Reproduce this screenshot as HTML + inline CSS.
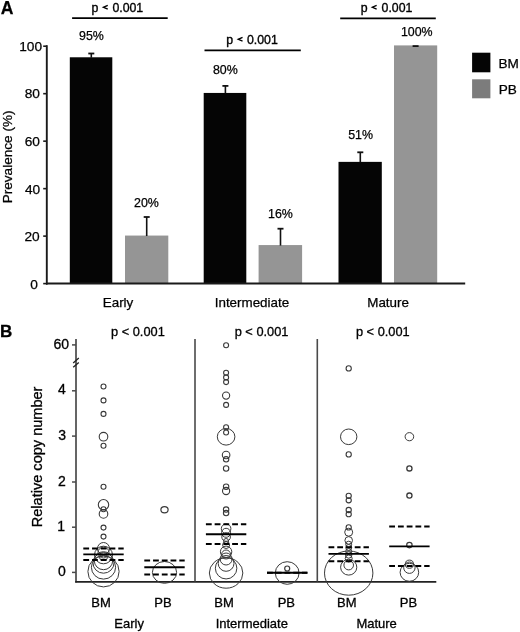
<!DOCTYPE html>
<html><head><meta charset="utf-8"><style>
html,body{margin:0;padding:0;background:#fff;}
svg{display:block;font-family:"Liberation Sans", sans-serif;filter:grayscale(1);}
text{stroke:#000;stroke-width:0.25px;paint-order:stroke;}
text.pv{stroke-width:0.35px;}
.b text{stroke-width:0.3px;}
</style></head><body>
<svg width="520" height="632" viewBox="0 0 520 632">
<rect x="0" y="0" width="520" height="632" fill="#fff"/>
<text x="0.86" y="13.61" font-size="17.6" font-weight="bold" fill="#000" >A</text>
<rect x="69.8" y="57.28500000000005" width="42.5" height="226.31499999999997" fill="#050505"/>
<line x1="91.3" y1="53.5" x2="91.3" y2="57.78500000000005" stroke="#111" stroke-width="1.6" />
<line x1="88.3" y1="53.5" x2="94.3" y2="53.5" stroke="#111" stroke-width="1.8" />
<rect x="125.0" y="235.56000000000003" width="43.30000000000001" height="48.03999999999999" fill="#959595"/>
<line x1="146.7" y1="217.0" x2="146.7" y2="236.06000000000003" stroke="#111" stroke-width="1.6" />
<line x1="143.7" y1="217.0" x2="149.7" y2="217.0" stroke="#111" stroke-width="1.8" />
<rect x="203.7" y="92.94000000000005" width="42.60000000000002" height="190.65999999999997" fill="#050505"/>
<line x1="225.4" y1="85.9" x2="225.4" y2="93.44000000000005" stroke="#111" stroke-width="1.6" />
<line x1="222.4" y1="85.9" x2="228.4" y2="85.9" stroke="#111" stroke-width="1.8" />
<rect x="258.6" y="245.06800000000004" width="43.5" height="38.53199999999998" fill="#959595"/>
<line x1="280.5" y1="228.7" x2="280.5" y2="245.56800000000004" stroke="#111" stroke-width="1.6" />
<line x1="277.5" y1="228.7" x2="283.5" y2="228.7" stroke="#111" stroke-width="1.8" />
<rect x="338.5" y="161.87300000000005" width="43.30000000000001" height="121.72699999999998" fill="#050505"/>
<line x1="360.3" y1="152.3" x2="360.3" y2="162.37300000000005" stroke="#111" stroke-width="1.6" />
<line x1="357.3" y1="152.3" x2="363.3" y2="152.3" stroke="#111" stroke-width="1.8" />
<rect x="394.0" y="45.400000000000034" width="43.19999999999999" height="238.2" fill="#959595"/>
<line x1="412.6" y1="46.1" x2="418.6" y2="46.1" stroke="#111" stroke-width="1.8" />
<line x1="46.8" y1="45.2" x2="46.8" y2="284.6" stroke="#1a1a1a" stroke-width="1.9" />
<line x1="46.0" y1="283.6" x2="465.2" y2="283.6" stroke="#1a1a1a" stroke-width="2.0" />
<line x1="43.2" y1="283.6" x2="47" y2="283.6" stroke="#1a1a1a" stroke-width="1.6" />
<line x1="43.2" y1="236.12" x2="47" y2="236.12" stroke="#1a1a1a" stroke-width="1.6" />
<line x1="43.2" y1="188.64000000000001" x2="47" y2="188.64000000000001" stroke="#1a1a1a" stroke-width="1.6" />
<line x1="43.2" y1="141.16000000000003" x2="47" y2="141.16000000000003" stroke="#1a1a1a" stroke-width="1.6" />
<line x1="43.2" y1="93.68" x2="47" y2="93.68" stroke="#1a1a1a" stroke-width="1.6" />
<line x1="43.2" y1="46.20000000000002" x2="47" y2="46.20000000000002" stroke="#1a1a1a" stroke-width="1.6" />
<text x="19.24" y="51.33" font-size="13.7" font-weight="normal" fill="#000" >100</text>
<text x="24.70" y="98.43" font-size="13.7" font-weight="normal" fill="#000" >80</text>
<text x="24.68" y="146.03" font-size="13.7" font-weight="normal" fill="#000" >60</text>
<text x="24.88" y="193.73" font-size="13.7" font-weight="normal" fill="#000" >40</text>
<text x="24.43" y="241.23" font-size="13.7" font-weight="normal" fill="#000" >20</text>
<text x="30.26" y="288.73" font-size="13.7" font-weight="normal" fill="#000" >0</text>
<text transform="translate(12.00,203.33) rotate(-90)" x="0" y="0" font-size="13.6" font-weight="normal">Prevalence (%)</text>
<text x="79.03" y="40.08" font-size="12.4" font-weight="normal" fill="#000" >95%</text>
<text x="134.08" y="207.08" font-size="12.4" font-weight="normal" fill="#000" >20%</text>
<text x="212.91" y="74.40" font-size="12.4" font-weight="normal" fill="#000" >80%</text>
<text x="267.99" y="218.08" font-size="12.4" font-weight="normal" fill="#000" >16%</text>
<text x="348.19" y="138.72" font-size="12.4" font-weight="normal" fill="#000" >51%</text>
<text x="400.88" y="36.18" font-size="12.4" font-weight="normal" fill="#000" >100%</text>
<line x1="72.1" y1="18.2" x2="167.7" y2="18.2" stroke="#000" stroke-width="1.8" />
<text class="pv" x="91.55" y="12.01" font-size="12.3">p</text>
<text class="pv" x="112.41" y="12.01" font-size="12.3">0.001</text>
<path d="M107.75,5.45 L103.45,7.30 L107.75,9.15" fill="none" stroke="#000" stroke-width="1.35" stroke-linejoin="miter"/>
<line x1="204.5" y1="50.4" x2="300.8" y2="50.4" stroke="#000" stroke-width="1.8" />
<text class="pv" x="226.17" y="44.11" font-size="12.3">p</text>
<text class="pv" x="247.03" y="44.11" font-size="12.3">0.001</text>
<path d="M242.55,37.45 L238.25,39.30 L242.55,41.15" fill="none" stroke="#000" stroke-width="1.35" stroke-linejoin="miter"/>
<line x1="340.2" y1="18.4" x2="435.8" y2="18.4" stroke="#000" stroke-width="1.8" />
<text class="pv" x="360.70" y="12.01" font-size="12.3">p</text>
<text class="pv" x="381.56" y="12.01" font-size="12.3">0.001</text>
<path d="M376.65,5.40 L372.35,7.25 L376.65,9.10" fill="none" stroke="#000" stroke-width="1.35" stroke-linejoin="miter"/>
<text x="102.75" y="307.48" font-size="13.4" font-weight="normal" fill="#000" >Early</text>
<text x="214.73" y="306.87" font-size="13.4" font-weight="normal" fill="#000" >Intermediate</text>
<text x="367.27" y="306.61" font-size="13.4" font-weight="normal" fill="#000" >Mature</text>
<rect x="472.1" y="52.7" width="18.3" height="19.6" fill="#050505"/>
<rect x="472.1" y="79.3" width="18.3" height="19.0" fill="#7c7c7c"/>
<text x="498.45" y="67.74" font-size="13.6" font-weight="normal" fill="#000" >BM</text>
<text x="498.75" y="94.29" font-size="13.6" font-weight="normal" fill="#000" >PB</text>
<g class="b">
<text x="0.12" y="336.76" font-size="17.0" font-weight="bold" fill="#000" >B</text>
<line x1="76.0" y1="339.1" x2="76.0" y2="582.6" stroke="#4a4a4a" stroke-width="1.7" />
<line x1="75.2" y1="581.8" x2="436.3" y2="581.8" stroke="#222" stroke-width="1.7" />
<line x1="195.0" y1="339.0" x2="195.0" y2="581.5" stroke="#4a4a4a" stroke-width="1.6" />
<line x1="317.3" y1="339.0" x2="317.3" y2="581.5" stroke="#4a4a4a" stroke-width="1.6" />
<line x1="72.0" y1="344.9" x2="76.0" y2="344.9" stroke="#4a4a4a" stroke-width="1.5" />
<line x1="72.0" y1="390.8" x2="76.0" y2="390.8" stroke="#4a4a4a" stroke-width="1.5" />
<line x1="72.0" y1="436.1" x2="76.0" y2="436.1" stroke="#4a4a4a" stroke-width="1.5" />
<line x1="72.0" y1="482.0" x2="76.0" y2="482.0" stroke="#4a4a4a" stroke-width="1.5" />
<line x1="72.0" y1="527.2" x2="76.0" y2="527.2" stroke="#4a4a4a" stroke-width="1.5" />
<line x1="72.0" y1="572.4" x2="76.0" y2="572.4" stroke="#4a4a4a" stroke-width="1.5" />
<line x1="73.2" y1="362.9" x2="78.8" y2="358.0" stroke="#222" stroke-width="1.3" />
<line x1="73.2" y1="367.3" x2="78.8" y2="362.4" stroke="#222" stroke-width="1.3" />
<text x="53.56" y="349.23" font-size="14.0" font-weight="normal" fill="#000" >60</text>
<text x="58.00" y="394.30" font-size="14.0" font-weight="normal" fill="#000" >4</text>
<text x="58.35" y="440.03" font-size="14.0" font-weight="normal" fill="#000" >3</text>
<text x="57.93" y="486.20" font-size="14.0" font-weight="normal" fill="#000" >2</text>
<text x="57.32" y="531.28" font-size="14.0" font-weight="normal" fill="#000" >1</text>
<text x="57.98" y="576.13" font-size="14.0" font-weight="normal" fill="#000" >0</text>
<text transform="translate(41.90,527.24) rotate(-90)" x="0" y="0" font-size="14.55" font-weight="normal">Relative copy number</text>
<text x="111.04" y="336.46" font-size="12.8" font-weight="normal" fill="#000" >p &lt; 0.001</text>
<text x="234.69" y="336.16" font-size="12.8" font-weight="normal" fill="#000" >p &lt; 0.001</text>
<text x="355.94" y="336.46" font-size="12.8" font-weight="normal" fill="#000" >p &lt; 0.001</text>
<text x="91.35" y="606.88" font-size="13.0" font-weight="normal" fill="#000" >BM</text>
<text x="154.26" y="606.88" font-size="13.0" font-weight="normal" fill="#000" >PB</text>
<text x="214.25" y="606.88" font-size="13.0" font-weight="normal" fill="#000" >BM</text>
<text x="277.71" y="606.88" font-size="13.0" font-weight="normal" fill="#000" >PB</text>
<text x="337.00" y="606.88" font-size="13.0" font-weight="normal" fill="#000" >BM</text>
<text x="399.76" y="606.88" font-size="13.0" font-weight="normal" fill="#000" >PB</text>
<text x="114.37" y="628.49" font-size="13.0" font-weight="normal" fill="#000" >Early</text>
<text x="215.65" y="627.98" font-size="13.0" font-weight="normal" fill="#000" >Intermediate</text>
<text x="356.38" y="627.72" font-size="13.0" font-weight="normal" fill="#000" >Mature</text>
<circle cx="103.5" cy="386.5" r="2.5" fill="none" stroke="#3a3a3a" stroke-width="1.1"/>
<circle cx="103.5" cy="400.4" r="2.5" fill="none" stroke="#3a3a3a" stroke-width="1.1"/>
<circle cx="103.5" cy="413.9" r="2.5" fill="none" stroke="#3a3a3a" stroke-width="1.1"/>
<circle cx="103.5" cy="436.7" r="4.3" fill="none" stroke="#3a3a3a" stroke-width="1.1"/>
<circle cx="103.5" cy="445.7" r="2.5" fill="none" stroke="#3a3a3a" stroke-width="1.1"/>
<circle cx="103.5" cy="486.7" r="2.5" fill="none" stroke="#3a3a3a" stroke-width="1.1"/>
<circle cx="103.5" cy="504.7" r="5.2" fill="none" stroke="#3a3a3a" stroke-width="1.1"/>
<circle cx="103.5" cy="509.2" r="2.5" fill="none" stroke="#3a3a3a" stroke-width="1.1"/>
<circle cx="103.5" cy="513.9" r="4.3" fill="none" stroke="#3a3a3a" stroke-width="1.1"/>
<circle cx="103.5" cy="527.6" r="2.5" fill="none" stroke="#3a3a3a" stroke-width="1.1"/>
<circle cx="103.5" cy="536.6" r="2.5" fill="none" stroke="#3a3a3a" stroke-width="1.1"/>
<ellipse cx="103.5" cy="548.5" rx="6.0" ry="6.0" fill="none" stroke="#3a3a3a" stroke-width="1.0"/>
<ellipse cx="103.5" cy="552.5" rx="5.5" ry="5.5" fill="none" stroke="#3a3a3a" stroke-width="1.0"/>
<ellipse cx="103.5" cy="555.0" rx="9.0" ry="8.8" fill="none" stroke="#3a3a3a" stroke-width="1.0"/>
<ellipse cx="103.5" cy="557.5" rx="4.0" ry="3.0" fill="none" stroke="#3a3a3a" stroke-width="1.0"/>
<ellipse cx="103.5" cy="560.7" rx="9.2" ry="9.0" fill="none" stroke="#3a3a3a" stroke-width="1.0"/>
<ellipse cx="103.5" cy="562.9" rx="10.5" ry="10.3" fill="none" stroke="#3a3a3a" stroke-width="1.0"/>
<ellipse cx="103.5" cy="567.3" rx="12.1" ry="11.8" fill="none" stroke="#3a3a3a" stroke-width="1.0"/>
<ellipse cx="103.5" cy="571.5" rx="15.6" ry="15.4" fill="none" stroke="#3a3a3a" stroke-width="1.0"/>
<line x1="83.3" y1="548.6" x2="123.7" y2="548.6" stroke="#000" stroke-width="2.0" stroke-dasharray="5.8 2.95"/>
<line x1="83.3" y1="554.4" x2="123.7" y2="554.4" stroke="#000" stroke-width="1.85" />
<line x1="83.3" y1="559.9" x2="123.7" y2="559.9" stroke="#000" stroke-width="2.0" stroke-dasharray="5.8 2.95"/>
<ellipse cx="164.5" cy="509.7" rx="3.6" ry="3.1" fill="none" stroke="#3a3a3a" stroke-width="1.2"/>
<ellipse cx="164.5" cy="572.4" rx="12.1" ry="10.9" fill="none" stroke="#3a3a3a" stroke-width="1.0"/>
<line x1="144.3" y1="560.5" x2="184.7" y2="560.5" stroke="#000" stroke-width="2.0" stroke-dasharray="5.8 2.95"/>
<line x1="144.3" y1="567.2" x2="184.7" y2="567.2" stroke="#000" stroke-width="1.85" />
<line x1="144.3" y1="574.4" x2="184.7" y2="574.4" stroke="#000" stroke-width="2.0" stroke-dasharray="5.8 2.95"/>
<circle cx="226.1" cy="345.3" r="2.5" fill="none" stroke="#3a3a3a" stroke-width="1.1"/>
<circle cx="226.1" cy="372.7" r="2.5" fill="none" stroke="#3a3a3a" stroke-width="1.1"/>
<circle cx="226.1" cy="377.4" r="2.5" fill="none" stroke="#3a3a3a" stroke-width="1.1"/>
<circle cx="226.1" cy="382.1" r="2.5" fill="none" stroke="#3a3a3a" stroke-width="1.1"/>
<circle cx="226.1" cy="395.6" r="3.6" fill="none" stroke="#3a3a3a" stroke-width="1.1"/>
<circle cx="226.1" cy="404.9" r="2.5" fill="none" stroke="#3a3a3a" stroke-width="1.1"/>
<circle cx="226.1" cy="427.3" r="2.5" fill="none" stroke="#3a3a3a" stroke-width="1.1"/>
<circle cx="226.1" cy="432.5" r="2.5" fill="none" stroke="#3a3a3a" stroke-width="1.1"/>
<circle cx="226.1" cy="455.0" r="3.8" fill="none" stroke="#3a3a3a" stroke-width="1.1"/>
<circle cx="226.1" cy="459.3" r="2.7" fill="none" stroke="#3a3a3a" stroke-width="1.1"/>
<circle cx="226.1" cy="468.5" r="2.7" fill="none" stroke="#3a3a3a" stroke-width="1.1"/>
<circle cx="226.1" cy="486.7" r="2.7" fill="none" stroke="#3a3a3a" stroke-width="1.1"/>
<circle cx="226.1" cy="491.0" r="3.6" fill="none" stroke="#3a3a3a" stroke-width="1.1"/>
<circle cx="226.1" cy="509.6" r="2.7" fill="none" stroke="#3a3a3a" stroke-width="1.1"/>
<circle cx="226.1" cy="513.1" r="2.7" fill="none" stroke="#3a3a3a" stroke-width="1.1"/>
<ellipse cx="226.1" cy="436.8" rx="8.8" ry="8.3" fill="none" stroke="#3a3a3a" stroke-width="1.0"/>
<circle cx="226.1" cy="528.7" r="4.8" fill="none" stroke="#3a3a3a" stroke-width="1.0"/>
<circle cx="226.1" cy="532.8" r="4.5" fill="none" stroke="#3a3a3a" stroke-width="1.0"/>
<circle cx="226.1" cy="537.0" r="4.3" fill="none" stroke="#3a3a3a" stroke-width="1.0"/>
<circle cx="226.1" cy="541.0" r="2.5" fill="none" stroke="#3a3a3a" stroke-width="1.0"/>
<circle cx="226.1" cy="545.0" r="3.5" fill="none" stroke="#3a3a3a" stroke-width="1.0"/>
<circle cx="226.1" cy="551.8" r="5.7" fill="none" stroke="#3a3a3a" stroke-width="1.0"/>
<circle cx="226.1" cy="554.5" r="4.5" fill="none" stroke="#3a3a3a" stroke-width="1.0"/>
<circle cx="226.1" cy="559.0" r="6.0" fill="none" stroke="#3a3a3a" stroke-width="1.0"/>
<circle cx="226.1" cy="563.4" r="7.9" fill="none" stroke="#3a3a3a" stroke-width="1.0"/>
<circle cx="226.1" cy="568.2" r="10.75" fill="none" stroke="#3a3a3a" stroke-width="1.0"/>
<ellipse cx="226.1" cy="573.0" rx="16.75" ry="15.2" fill="none" stroke="#3a3a3a" stroke-width="1.0"/>
<line x1="205.9" y1="524.2" x2="246.29999999999998" y2="524.2" stroke="#000" stroke-width="2.0" stroke-dasharray="5.8 2.95"/>
<line x1="205.9" y1="534.2" x2="246.29999999999998" y2="534.2" stroke="#000" stroke-width="1.85" />
<line x1="205.9" y1="543.9" x2="246.29999999999998" y2="543.9" stroke="#000" stroke-width="2.0" stroke-dasharray="5.8 2.95"/>
<ellipse cx="287.2" cy="573.0" rx="11.9" ry="11.3" fill="none" stroke="#3a3a3a" stroke-width="1.0"/>
<ellipse cx="287.2" cy="568.5" rx="2.5" ry="2.5" fill="none" stroke="#3a3a3a" stroke-width="1.2"/>
<line x1="267.0" y1="572.7" x2="307.4" y2="572.7" stroke="#000" stroke-width="1.85" />
<line x1="267.0" y1="572.7" x2="307.4" y2="572.7" stroke="#000" stroke-width="2.0" stroke-dasharray="5.8 2.95"/>
<circle cx="348.7" cy="368.4" r="2.6" fill="none" stroke="#3a3a3a" stroke-width="1.1"/>
<circle cx="348.7" cy="454.4" r="2.6" fill="none" stroke="#3a3a3a" stroke-width="1.1"/>
<circle cx="348.7" cy="495.8" r="2.6" fill="none" stroke="#3a3a3a" stroke-width="1.1"/>
<circle cx="348.7" cy="500.3" r="2.6" fill="none" stroke="#3a3a3a" stroke-width="1.1"/>
<circle cx="348.7" cy="510.0" r="2.6" fill="none" stroke="#3a3a3a" stroke-width="1.1"/>
<circle cx="348.7" cy="514.2" r="2.6" fill="none" stroke="#3a3a3a" stroke-width="1.1"/>
<circle cx="348.7" cy="527.4" r="2.6" fill="none" stroke="#3a3a3a" stroke-width="1.1"/>
<ellipse cx="348.7" cy="436.8" rx="8.2" ry="7.8" fill="none" stroke="#3a3a3a" stroke-width="1.0"/>
<circle cx="348.7" cy="532.2" r="4.0" fill="none" stroke="#3a3a3a" stroke-width="1.0"/>
<circle cx="348.7" cy="540.4" r="3.8" fill="none" stroke="#3a3a3a" stroke-width="1.0"/>
<circle cx="348.7" cy="544.2" r="3.0" fill="none" stroke="#3a3a3a" stroke-width="1.0"/>
<circle cx="348.7" cy="547.5" r="3.0" fill="none" stroke="#3a3a3a" stroke-width="1.0"/>
<circle cx="348.7" cy="551.5" r="3.0" fill="none" stroke="#3a3a3a" stroke-width="1.0"/>
<circle cx="348.7" cy="555.0" r="3.2" fill="none" stroke="#3a3a3a" stroke-width="1.0"/>
<circle cx="348.7" cy="558.5" r="3.5" fill="none" stroke="#3a3a3a" stroke-width="1.0"/>
<circle cx="348.7" cy="565.1" r="4.8" fill="none" stroke="#3a3a3a" stroke-width="1.0"/>
<ellipse cx="348.7" cy="567.2" rx="8.1" ry="7.9" fill="none" stroke="#3a3a3a" stroke-width="1.0"/>
<ellipse cx="348.7" cy="573.1" rx="24.2" ry="22.1" fill="none" stroke="#3a3a3a" stroke-width="1.0"/>
<line x1="328.5" y1="547.2" x2="368.9" y2="547.2" stroke="#000" stroke-width="2.0" stroke-dasharray="5.8 2.95"/>
<line x1="328.5" y1="553.9" x2="368.9" y2="553.9" stroke="#000" stroke-width="1.85" />
<line x1="328.5" y1="561.3" x2="368.9" y2="561.3" stroke="#000" stroke-width="2.0" stroke-dasharray="5.8 2.95"/>
<ellipse cx="409.4" cy="436.7" rx="4.3" ry="4.1" fill="none" stroke="#3a3a3a" stroke-width="1.0"/>
<ellipse cx="409.4" cy="468.4" rx="2.6" ry="2.6" fill="none" stroke="#3a3a3a" stroke-width="1.3"/>
<ellipse cx="409.4" cy="495.6" rx="2.6" ry="2.6" fill="none" stroke="#3a3a3a" stroke-width="1.3"/>
<ellipse cx="409.4" cy="545.1" rx="2.7" ry="2.7" fill="none" stroke="#3a3a3a" stroke-width="1.2"/>
<circle cx="409.4" cy="564.2" r="4.1" fill="none" stroke="#3a3a3a" stroke-width="1.0"/>
<circle cx="409.4" cy="567.7" r="5.7" fill="none" stroke="#3a3a3a" stroke-width="1.0"/>
<ellipse cx="409.4" cy="572.3" rx="9.3" ry="9.0" fill="none" stroke="#3a3a3a" stroke-width="1.0"/>
<line x1="389.2" y1="526.6" x2="429.59999999999997" y2="526.6" stroke="#000" stroke-width="2.0" stroke-dasharray="5.8 2.95"/>
<line x1="389.2" y1="546.4" x2="429.59999999999997" y2="546.4" stroke="#000" stroke-width="1.85" />
<line x1="389.2" y1="566.0" x2="429.59999999999997" y2="566.0" stroke="#000" stroke-width="2.0" stroke-dasharray="5.8 2.95"/>
</g>
</svg>
</body></html>
